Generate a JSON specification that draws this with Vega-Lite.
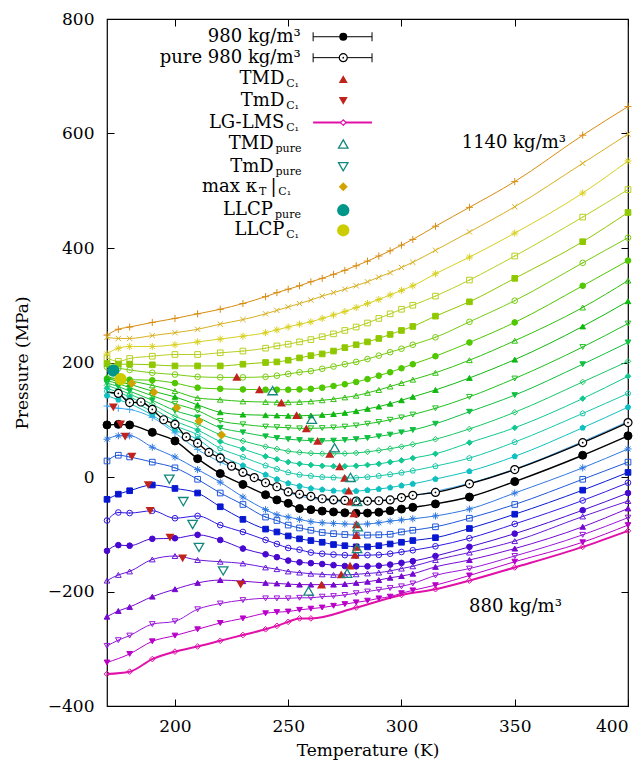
{
"$schema":"https://vega.github.io/schema/vega-lite/v6.json",
"width":521,"height":687,
"autosize":{"type":"none"},
"padding":{"left":107,"top":19,"right":16,"bottom":64},
"background":"white",
"config":{"view":{"stroke":"black","strokeWidth":1.2},"font":"DejaVu Serif",
"axis":{"domain":false,"grid":false,"tickColor":"black","tickSize":-7,"tickWidth":1,"labelFont":"DejaVu Serif","labelFontSize":17,"labelColor":"black","titleFont":"DejaVu Serif","titleFontSize":17,"titleFontWeight":"normal","titleColor":"black"}},
"datasets":{
"iso":[
{"r":1140,"T":170,"P":248},{"r":1140,"T":175,"P":258},{"r":1140,"T":180,"P":262},{"r":1140,"T":190,"P":270},{"r":1140,"T":200,"P":277},{"r":1140,"T":210,"P":285},{"r":1140,"T":220,"P":293},{"r":1140,"T":230,"P":303},{"r":1140,"T":240,"P":315},{"r":1140,"T":245,"P":322},{"r":1140,"T":250,"P":328},{"r":1140,"T":255,"P":334},{"r":1140,"T":260,"P":341},{"r":1140,"T":265,"P":347},{"r":1140,"T":270,"P":354},{"r":1140,"T":275,"P":361},{"r":1140,"T":280,"P":369},{"r":1140,"T":285,"P":377},{"r":1140,"T":290,"P":386},{"r":1140,"T":295,"P":395},{"r":1140,"T":300,"P":405},{"r":1140,"T":305,"P":415},{"r":1140,"T":315,"P":438},{"r":1140,"T":330,"P":471},{"r":1140,"T":350,"P":516},{"r":1140,"T":380,"P":597},{"r":1140,"T":400,"P":647},
{"r":1130,"T":170,"P":244},{"r":1130,"T":175,"P":242},{"r":1130,"T":180,"P":242},{"r":1130,"T":190,"P":247},{"r":1130,"T":200,"P":252},{"r":1130,"T":210,"P":258},{"r":1130,"T":220,"P":267},{"r":1130,"T":230,"P":275},{"r":1130,"T":240,"P":285},{"r":1130,"T":245,"P":291},{"r":1130,"T":250,"P":297},{"r":1130,"T":255,"P":303},{"r":1130,"T":260,"P":309},{"r":1130,"T":265,"P":316},{"r":1130,"T":270,"P":322},{"r":1130,"T":275,"P":328},{"r":1130,"T":280,"P":334},{"r":1130,"T":285,"P":341},{"r":1130,"T":290,"P":349},{"r":1130,"T":295,"P":357},{"r":1130,"T":300,"P":366},{"r":1130,"T":305,"P":375},{"r":1130,"T":315,"P":396},{"r":1130,"T":330,"P":428},{"r":1130,"T":350,"P":472},{"r":1130,"T":380,"P":548},{"r":1130,"T":400,"P":599},
{"r":1120,"T":170,"P":215},{"r":1120,"T":175,"P":225},{"r":1120,"T":180,"P":228},{"r":1120,"T":190,"P":228},{"r":1120,"T":200,"P":231},{"r":1120,"T":210,"P":236},{"r":1120,"T":220,"P":241},{"r":1120,"T":230,"P":246},{"r":1120,"T":240,"P":252},{"r":1120,"T":245,"P":257},{"r":1120,"T":250,"P":262},{"r":1120,"T":255,"P":267},{"r":1120,"T":260,"P":271},{"r":1120,"T":265,"P":277},{"r":1120,"T":270,"P":283},{"r":1120,"T":275,"P":289},{"r":1120,"T":280,"P":296},{"r":1120,"T":285,"P":303},{"r":1120,"T":290,"P":310},{"r":1120,"T":295,"P":318},{"r":1120,"T":300,"P":326},{"r":1120,"T":305,"P":334},{"r":1120,"T":315,"P":355},{"r":1120,"T":330,"P":384},{"r":1120,"T":350,"P":426},{"r":1120,"T":380,"P":496},{"r":1120,"T":400,"P":552},
{"r":1110,"T":170,"P":208},{"r":1110,"T":175,"P":202},{"r":1110,"T":180,"P":207},{"r":1110,"T":190,"P":211},{"r":1110,"T":200,"P":214},{"r":1110,"T":210,"P":214},{"r":1110,"T":220,"P":217},{"r":1110,"T":230,"P":220},{"r":1110,"T":240,"P":225},{"r":1110,"T":245,"P":229},{"r":1110,"T":250,"P":232},{"r":1110,"T":255,"P":236},{"r":1110,"T":260,"P":240},{"r":1110,"T":265,"P":245},{"r":1110,"T":270,"P":250},{"r":1110,"T":275,"P":256},{"r":1110,"T":280,"P":262},{"r":1110,"T":285,"P":269},{"r":1110,"T":290,"P":277},{"r":1110,"T":295,"P":285},{"r":1110,"T":300,"P":293},{"r":1110,"T":305,"P":300},{"r":1110,"T":315,"P":316},{"r":1110,"T":330,"P":344},{"r":1110,"T":350,"P":386},{"r":1110,"T":380,"P":454},{"r":1110,"T":400,"P":502},
{"r":1100,"T":170,"P":198},{"r":1100,"T":175,"P":197},{"r":1100,"T":180,"P":197},{"r":1100,"T":190,"P":196},{"r":1100,"T":200,"P":194},{"r":1100,"T":210,"P":194},{"r":1100,"T":220,"P":194},{"r":1100,"T":230,"P":197},{"r":1100,"T":240,"P":200},{"r":1100,"T":245,"P":201},{"r":1100,"T":250,"P":204},{"r":1100,"T":255,"P":208},{"r":1100,"T":260,"P":212},{"r":1100,"T":265,"P":215},{"r":1100,"T":270,"P":220},{"r":1100,"T":275,"P":226},{"r":1100,"T":280,"P":231},{"r":1100,"T":285,"P":236},{"r":1100,"T":290,"P":242},{"r":1100,"T":295,"P":249},{"r":1100,"T":300,"P":256},{"r":1100,"T":305,"P":263},{"r":1100,"T":315,"P":281},{"r":1100,"T":330,"P":306},{"r":1100,"T":350,"P":347},{"r":1100,"T":380,"P":411},{"r":1100,"T":400,"P":462},
{"r":1090,"T":170,"P":192},{"r":1090,"T":175,"P":190},{"r":1090,"T":180,"P":187},{"r":1090,"T":190,"P":182},{"r":1090,"T":200,"P":179},{"r":1090,"T":210,"P":175},{"r":1090,"T":220,"P":174},{"r":1090,"T":230,"P":174},{"r":1090,"T":240,"P":175},{"r":1090,"T":245,"P":177},{"r":1090,"T":250,"P":180},{"r":1090,"T":255,"P":183},{"r":1090,"T":260,"P":185},{"r":1090,"T":265,"P":189},{"r":1090,"T":270,"P":193},{"r":1090,"T":275,"P":197},{"r":1090,"T":280,"P":201},{"r":1090,"T":285,"P":206},{"r":1090,"T":290,"P":212},{"r":1090,"T":295,"P":218},{"r":1090,"T":300,"P":224},{"r":1090,"T":305,"P":231},{"r":1090,"T":315,"P":244},{"r":1090,"T":330,"P":271},{"r":1090,"T":350,"P":308},{"r":1090,"T":380,"P":374},{"r":1090,"T":400,"P":418},
{"r":1080,"T":170,"P":172},{"r":1080,"T":175,"P":171},{"r":1080,"T":180,"P":170},{"r":1080,"T":190,"P":169},{"r":1080,"T":200,"P":164},{"r":1080,"T":210,"P":156},{"r":1080,"T":220,"P":154},{"r":1080,"T":230,"P":153},{"r":1080,"T":240,"P":152.5},{"r":1080,"T":245,"P":152.5},{"r":1080,"T":250,"P":152.5},{"r":1080,"T":255,"P":153},{"r":1080,"T":260,"P":154},{"r":1080,"T":265,"P":156},{"r":1080,"T":270,"P":159},{"r":1080,"T":275,"P":162},{"r":1080,"T":280,"P":166},{"r":1080,"T":285,"P":171},{"r":1080,"T":290,"P":177},{"r":1080,"T":295,"P":183},{"r":1080,"T":300,"P":190},{"r":1080,"T":305,"P":197},{"r":1080,"T":315,"P":211},{"r":1080,"T":330,"P":235},{"r":1080,"T":350,"P":270},{"r":1080,"T":380,"P":334},{"r":1080,"T":400,"P":378},
{"r":1070,"T":170,"P":175},{"r":1070,"T":175,"P":171},{"r":1070,"T":180,"P":168},{"r":1070,"T":190,"P":160},{"r":1070,"T":200,"P":150},{"r":1070,"T":210,"P":138},{"r":1070,"T":220,"P":135},{"r":1070,"T":230,"P":132},{"r":1070,"T":240,"P":131},{"r":1070,"T":245,"P":130.5},{"r":1070,"T":250,"P":130.5},{"r":1070,"T":255,"P":131},{"r":1070,"T":260,"P":132},{"r":1070,"T":265,"P":134},{"r":1070,"T":270,"P":136},{"r":1070,"T":275,"P":139},{"r":1070,"T":280,"P":142},{"r":1070,"T":285,"P":147},{"r":1070,"T":290,"P":152},{"r":1070,"T":295,"P":158},{"r":1070,"T":300,"P":164},{"r":1070,"T":305,"P":170},{"r":1070,"T":315,"P":182},{"r":1070,"T":330,"P":204},{"r":1070,"T":350,"P":238},{"r":1070,"T":380,"P":296},{"r":1070,"T":400,"P":343},
{"r":1060,"T":170,"P":172},{"r":1060,"T":175,"P":167},{"r":1060,"T":180,"P":162},{"r":1060,"T":190,"P":150},{"r":1060,"T":200,"P":140},{"r":1060,"T":210,"P":126},{"r":1060,"T":220,"P":113},{"r":1060,"T":230,"P":109},{"r":1060,"T":240,"P":108},{"r":1060,"T":245,"P":107.5},{"r":1060,"T":250,"P":107},{"r":1060,"T":255,"P":107},{"r":1060,"T":260,"P":107.5},{"r":1060,"T":265,"P":108.5},{"r":1060,"T":270,"P":110},{"r":1060,"T":275,"P":112},{"r":1060,"T":280,"P":115},{"r":1060,"T":285,"P":119},{"r":1060,"T":290,"P":123},{"r":1060,"T":295,"P":128},{"r":1060,"T":300,"P":134},{"r":1060,"T":305,"P":140},{"r":1060,"T":315,"P":152},{"r":1060,"T":330,"P":173},{"r":1060,"T":350,"P":205},{"r":1060,"T":380,"P":263},{"r":1060,"T":400,"P":307},
{"r":1050,"T":170,"P":168},{"r":1050,"T":175,"P":163},{"r":1050,"T":180,"P":156},{"r":1050,"T":190,"P":142},{"r":1050,"T":200,"P":128},{"r":1050,"T":210,"P":116},{"r":1050,"T":220,"P":98},{"r":1050,"T":230,"P":92},{"r":1050,"T":240,"P":88},{"r":1050,"T":245,"P":87},{"r":1050,"T":250,"P":86},{"r":1050,"T":255,"P":85},{"r":1050,"T":260,"P":85},{"r":1050,"T":265,"P":85.5},{"r":1050,"T":270,"P":86.5},{"r":1050,"T":275,"P":88},{"r":1050,"T":280,"P":90},{"r":1050,"T":285,"P":93},{"r":1050,"T":290,"P":96},{"r":1050,"T":295,"P":100},{"r":1050,"T":300,"P":104},{"r":1050,"T":305,"P":109},{"r":1050,"T":315,"P":120},{"r":1050,"T":330,"P":140},{"r":1050,"T":350,"P":172},{"r":1050,"T":380,"P":227},{"r":1050,"T":400,"P":268},
{"r":1040,"T":170,"P":164},{"r":1040,"T":175,"P":158},{"r":1040,"T":180,"P":150},{"r":1040,"T":190,"P":134},{"r":1040,"T":200,"P":116},{"r":1040,"T":210,"P":104},{"r":1040,"T":220,"P":86},{"r":1040,"T":230,"P":78},{"r":1040,"T":240,"P":71},{"r":1040,"T":245,"P":68},{"r":1040,"T":250,"P":66},{"r":1040,"T":255,"P":64.5},{"r":1040,"T":260,"P":63.5},{"r":1040,"T":265,"P":63},{"r":1040,"T":270,"P":63.5},{"r":1040,"T":275,"P":64.5},{"r":1040,"T":280,"P":66},{"r":1040,"T":285,"P":68},{"r":1040,"T":290,"P":71},{"r":1040,"T":295,"P":74},{"r":1040,"T":300,"P":78},{"r":1040,"T":305,"P":82},{"r":1040,"T":315,"P":93},{"r":1040,"T":330,"P":114},{"r":1040,"T":350,"P":143},{"r":1040,"T":380,"P":197},{"r":1040,"T":400,"P":235},
{"r":1030,"T":170,"P":160},{"r":1030,"T":175,"P":153},{"r":1030,"T":180,"P":145},{"r":1030,"T":190,"P":127},{"r":1030,"T":200,"P":106},{"r":1030,"T":210,"P":92},{"r":1030,"T":220,"P":74},{"r":1030,"T":230,"P":63},{"r":1030,"T":240,"P":53},{"r":1030,"T":245,"P":49},{"r":1030,"T":250,"P":45},{"r":1030,"T":255,"P":43},{"r":1030,"T":260,"P":41.5},{"r":1030,"T":265,"P":40.8},{"r":1030,"T":270,"P":40.5},{"r":1030,"T":275,"P":41},{"r":1030,"T":280,"P":42},{"r":1030,"T":285,"P":44},{"r":1030,"T":290,"P":46.5},{"r":1030,"T":295,"P":49.5},{"r":1030,"T":300,"P":53},{"r":1030,"T":305,"P":57},{"r":1030,"T":315,"P":66},{"r":1030,"T":330,"P":84},{"r":1030,"T":350,"P":113},{"r":1030,"T":380,"P":166},{"r":1030,"T":400,"P":202},
{"r":1020,"T":170,"P":155},{"r":1020,"T":175,"P":148},{"r":1020,"T":180,"P":140},{"r":1020,"T":190,"P":120},{"r":1020,"T":200,"P":98},{"r":1020,"T":210,"P":82},{"r":1020,"T":220,"P":62},{"r":1020,"T":230,"P":49},{"r":1020,"T":240,"P":36},{"r":1020,"T":245,"P":31},{"r":1020,"T":250,"P":26},{"r":1020,"T":255,"P":23},{"r":1020,"T":260,"P":21},{"r":1020,"T":265,"P":19.5},{"r":1020,"T":270,"P":18.8},{"r":1020,"T":275,"P":18.7},{"r":1020,"T":280,"P":19.5},{"r":1020,"T":285,"P":21},{"r":1020,"T":290,"P":23},{"r":1020,"T":295,"P":26},{"r":1020,"T":300,"P":29},{"r":1020,"T":305,"P":33},{"r":1020,"T":315,"P":40.5},{"r":1020,"T":330,"P":60},{"r":1020,"T":350,"P":86},{"r":1020,"T":380,"P":137},{"r":1020,"T":400,"P":176},
{"r":1010,"T":170,"P":150},{"r":1010,"T":175,"P":142},{"r":1010,"T":180,"P":134},{"r":1010,"T":190,"P":114},{"r":1010,"T":200,"P":90},{"r":1010,"T":210,"P":74},{"r":1010,"T":220,"P":50},{"r":1010,"T":230,"P":35},{"r":1010,"T":240,"P":20},{"r":1010,"T":245,"P":14},{"r":1010,"T":250,"P":8},{"r":1010,"T":255,"P":4},{"r":1010,"T":260,"P":2},{"r":1010,"T":265,"P":0},{"r":1010,"T":270,"P":-1},{"r":1010,"T":275,"P":-2},{"r":1010,"T":280,"P":-1.5},{"r":1010,"T":285,"P":0},{"r":1010,"T":290,"P":2},{"r":1010,"T":295,"P":4.5},{"r":1010,"T":300,"P":7.5},{"r":1010,"T":305,"P":11},{"r":1010,"T":315,"P":19},{"r":1010,"T":330,"P":33},{"r":1010,"T":350,"P":61},{"r":1010,"T":380,"P":111},{"r":1010,"T":400,"P":146},
{"r":1000,"T":170,"P":142},{"r":1000,"T":175,"P":135},{"r":1000,"T":180,"P":128},{"r":1000,"T":190,"P":108},{"r":1000,"T":200,"P":82},{"r":1000,"T":210,"P":66},{"r":1000,"T":220,"P":38},{"r":1000,"T":230,"P":20},{"r":1000,"T":240,"P":4},{"r":1000,"T":245,"P":-4},{"r":1000,"T":250,"P":-11},{"r":1000,"T":255,"P":-16},{"r":1000,"T":260,"P":-20},{"r":1000,"T":265,"P":-22},{"r":1000,"T":270,"P":-24},{"r":1000,"T":275,"P":-24.5},{"r":1000,"T":280,"P":-24.5},{"r":1000,"T":285,"P":-23},{"r":1000,"T":290,"P":-21},{"r":1000,"T":295,"P":-18.5},{"r":1000,"T":300,"P":-15},{"r":1000,"T":305,"P":-12},{"r":1000,"T":315,"P":-3.5},{"r":1000,"T":330,"P":10},{"r":1000,"T":350,"P":36},{"r":1000,"T":380,"P":86},{"r":1000,"T":400,"P":122},
{"r":990,"T":170,"P":124},{"r":990,"T":175,"P":120},{"r":990,"T":180,"P":118},{"r":990,"T":190,"P":104},{"r":990,"T":200,"P":77},{"r":990,"T":210,"P":48},{"r":990,"T":220,"P":26},{"r":990,"T":230,"P":9},{"r":990,"T":240,"P":-9},{"r":990,"T":245,"P":-18},{"r":990,"T":250,"P":-27},{"r":990,"T":255,"P":-33},{"r":990,"T":260,"P":-37},{"r":990,"T":265,"P":-40},{"r":990,"T":270,"P":-42},{"r":990,"T":275,"P":-43},{"r":990,"T":280,"P":-43},{"r":990,"T":285,"P":-42},{"r":990,"T":290,"P":-41},{"r":990,"T":295,"P":-39},{"r":990,"T":300,"P":-36},{"r":990,"T":305,"P":-33},{"r":990,"T":315,"P":-25},{"r":990,"T":330,"P":-11},{"r":990,"T":350,"P":14},{"r":990,"T":380,"P":62},{"r":990,"T":400,"P":97},
{"r":980,"T":170,"P":91},{"r":980,"T":175,"P":92},{"r":980,"T":180,"P":91},{"r":980,"T":190,"P":78},{"r":980,"T":200,"P":63},{"r":980,"T":210,"P":32},{"r":980,"T":220,"P":6},{"r":980,"T":230,"P":-13},{"r":980,"T":240,"P":-31},{"r":980,"T":245,"P":-40},{"r":980,"T":250,"P":-46},{"r":980,"T":255,"P":-55},{"r":980,"T":260,"P":-57},{"r":980,"T":265,"P":-59.5},{"r":980,"T":270,"P":-61},{"r":980,"T":275,"P":-62.5},{"r":980,"T":280,"P":-63.3},{"r":980,"T":285,"P":-63},{"r":980,"T":290,"P":-61.5},{"r":980,"T":295,"P":-59},{"r":980,"T":300,"P":-56},{"r":980,"T":305,"P":-53},{"r":980,"T":315,"P":-47},{"r":980,"T":330,"P":-35},{"r":980,"T":350,"P":-8},{"r":980,"T":380,"P":38},{"r":980,"T":400,"P":72},
{"r":970,"T":170,"P":66},{"r":970,"T":175,"P":72},{"r":970,"T":180,"P":72},{"r":970,"T":190,"P":52},{"r":970,"T":200,"P":35},{"r":970,"T":210,"P":13},{"r":970,"T":220,"P":-9},{"r":970,"T":230,"P":-35},{"r":970,"T":240,"P":-57},{"r":970,"T":245,"P":-66},{"r":970,"T":250,"P":-70},{"r":970,"T":255,"P":-74},{"r":970,"T":260,"P":-78},{"r":970,"T":265,"P":-80},{"r":970,"T":270,"P":-81},{"r":970,"T":275,"P":-82},{"r":970,"T":280,"P":-82.5},{"r":970,"T":285,"P":-82},{"r":970,"T":290,"P":-80},{"r":970,"T":295,"P":-77},{"r":970,"T":300,"P":-75},{"r":970,"T":305,"P":-73},{"r":970,"T":315,"P":-68},{"r":970,"T":330,"P":-56},{"r":970,"T":350,"P":-28},{"r":970,"T":380,"P":16},{"r":970,"T":400,"P":49},
{"r":960,"T":170,"P":28},{"r":960,"T":175,"P":38},{"r":960,"T":180,"P":35},{"r":960,"T":190,"P":26},{"r":960,"T":200,"P":16},{"r":960,"T":210,"P":-4},{"r":960,"T":220,"P":-28},{"r":960,"T":230,"P":-48},{"r":960,"T":240,"P":-70},{"r":960,"T":245,"P":-76},{"r":960,"T":250,"P":-84},{"r":960,"T":255,"P":-89},{"r":960,"T":260,"P":-93},{"r":960,"T":265,"P":-97},{"r":960,"T":270,"P":-99},{"r":960,"T":275,"P":-100.5},{"r":960,"T":280,"P":-101.5},{"r":960,"T":285,"P":-101.5},{"r":960,"T":290,"P":-101},{"r":960,"T":295,"P":-100},{"r":960,"T":300,"P":-96},{"r":960,"T":305,"P":-93},{"r":960,"T":315,"P":-87},{"r":960,"T":330,"P":-72},{"r":960,"T":350,"P":-48},{"r":960,"T":380,"P":-4},{"r":960,"T":400,"P":26},
{"r":950,"T":170,"P":-39},{"r":950,"T":175,"P":-30},{"r":950,"T":180,"P":-24},{"r":950,"T":190,"P":-14},{"r":950,"T":200,"P":-20},{"r":950,"T":210,"P":-28},{"r":950,"T":220,"P":-52},{"r":950,"T":230,"P":-74},{"r":950,"T":240,"P":-91},{"r":950,"T":245,"P":-96},{"r":950,"T":250,"P":-103},{"r":950,"T":255,"P":-108},{"r":950,"T":260,"P":-111},{"r":950,"T":265,"P":-114},{"r":950,"T":270,"P":-118},{"r":950,"T":275,"P":-120},{"r":950,"T":280,"P":-122},{"r":950,"T":285,"P":-122},{"r":950,"T":290,"P":-120},{"r":950,"T":295,"P":-117},{"r":950,"T":300,"P":-114},{"r":950,"T":305,"P":-111},{"r":950,"T":315,"P":-106},{"r":950,"T":330,"P":-90},{"r":950,"T":350,"P":-65},{"r":950,"T":380,"P":-23},{"r":950,"T":400,"P":8},
{"r":940,"T":170,"P":-76},{"r":940,"T":175,"P":-62},{"r":940,"T":180,"P":-63},{"r":940,"T":190,"P":-59},{"r":940,"T":200,"P":-72},{"r":940,"T":210,"P":-68},{"r":940,"T":220,"P":-84},{"r":940,"T":230,"P":-96},{"r":940,"T":240,"P":-110},{"r":940,"T":245,"P":-117},{"r":940,"T":250,"P":-124},{"r":940,"T":255,"P":-127},{"r":940,"T":260,"P":-132},{"r":940,"T":265,"P":-134},{"r":940,"T":270,"P":-135.5},{"r":940,"T":275,"P":-136.5},{"r":940,"T":280,"P":-137},{"r":940,"T":285,"P":-136.5},{"r":940,"T":290,"P":-136},{"r":940,"T":295,"P":-134},{"r":940,"T":300,"P":-131},{"r":940,"T":305,"P":-128},{"r":940,"T":315,"P":-121},{"r":940,"T":330,"P":-107},{"r":940,"T":350,"P":-82},{"r":940,"T":380,"P":-41},{"r":940,"T":400,"P":-10},
{"r":930,"T":170,"P":-129},{"r":930,"T":175,"P":-119},{"r":930,"T":180,"P":-120},{"r":930,"T":190,"P":-108},{"r":930,"T":200,"P":-107},{"r":930,"T":210,"P":-101},{"r":930,"T":220,"P":-110},{"r":930,"T":230,"P":-125},{"r":930,"T":240,"P":-135},{"r":930,"T":245,"P":-140},{"r":930,"T":250,"P":-146},{"r":930,"T":255,"P":-149},{"r":930,"T":260,"P":-150.5},{"r":930,"T":265,"P":-152},{"r":930,"T":270,"P":-154},{"r":930,"T":275,"P":-155.5},{"r":930,"T":280,"P":-156},{"r":930,"T":285,"P":-156},{"r":930,"T":290,"P":-155},{"r":930,"T":295,"P":-153},{"r":930,"T":300,"P":-150},{"r":930,"T":305,"P":-147},{"r":930,"T":315,"P":-138},{"r":930,"T":330,"P":-122},{"r":930,"T":350,"P":-99},{"r":930,"T":380,"P":-58},{"r":930,"T":400,"P":-28},
{"r":920,"T":170,"P":-181},{"r":920,"T":175,"P":-171},{"r":920,"T":180,"P":-165},{"r":920,"T":190,"P":-144},{"r":920,"T":200,"P":-138},{"r":920,"T":210,"P":-145},{"r":920,"T":220,"P":-148},{"r":920,"T":230,"P":-151},{"r":920,"T":240,"P":-158},{"r":920,"T":245,"P":-161},{"r":920,"T":250,"P":-165},{"r":920,"T":255,"P":-167},{"r":920,"T":260,"P":-169},{"r":920,"T":265,"P":-170},{"r":920,"T":270,"P":-171},{"r":920,"T":275,"P":-171},{"r":920,"T":280,"P":-170},{"r":920,"T":285,"P":-168.5},{"r":920,"T":290,"P":-167},{"r":920,"T":295,"P":-164},{"r":920,"T":300,"P":-160},{"r":920,"T":305,"P":-156},{"r":920,"T":315,"P":-145},{"r":920,"T":330,"P":-132},{"r":920,"T":350,"P":-112},{"r":920,"T":380,"P":-69},{"r":920,"T":400,"P":-42},
{"r":910,"T":170,"P":-244},{"r":910,"T":175,"P":-234},{"r":910,"T":180,"P":-227},{"r":910,"T":190,"P":-209},{"r":910,"T":200,"P":-196},{"r":910,"T":210,"P":-185},{"r":910,"T":220,"P":-180},{"r":910,"T":230,"P":-182},{"r":910,"T":240,"P":-185},{"r":910,"T":245,"P":-186},{"r":910,"T":250,"P":-187},{"r":910,"T":255,"P":-188},{"r":910,"T":260,"P":-188},{"r":910,"T":265,"P":-188},{"r":910,"T":270,"P":-188},{"r":910,"T":275,"P":-187},{"r":910,"T":280,"P":-185},{"r":910,"T":285,"P":-183},{"r":910,"T":290,"P":-180},{"r":910,"T":295,"P":-176},{"r":910,"T":300,"P":-173},{"r":910,"T":305,"P":-169},{"r":910,"T":315,"P":-157},{"r":910,"T":330,"P":-145},{"r":910,"T":350,"P":-125},{"r":910,"T":380,"P":-87},{"r":910,"T":400,"P":-55},
{"r":900,"T":170,"P":-295},{"r":900,"T":175,"P":-285},{"r":900,"T":180,"P":-277},{"r":900,"T":190,"P":-257},{"r":900,"T":200,"P":-252},{"r":900,"T":210,"P":-231},{"r":900,"T":220,"P":-221},{"r":900,"T":230,"P":-215},{"r":900,"T":240,"P":-212},{"r":900,"T":245,"P":-212},{"r":900,"T":250,"P":-212},{"r":900,"T":255,"P":-211},{"r":900,"T":260,"P":-211},{"r":900,"T":265,"P":-209},{"r":900,"T":270,"P":-208},{"r":900,"T":275,"P":-206},{"r":900,"T":280,"P":-203},{"r":900,"T":285,"P":-200},{"r":900,"T":290,"P":-197},{"r":900,"T":295,"P":-194},{"r":900,"T":300,"P":-191},{"r":900,"T":305,"P":-186},{"r":900,"T":315,"P":-172},{"r":900,"T":330,"P":-160},{"r":900,"T":350,"P":-138},{"r":900,"T":380,"P":-101},{"r":900,"T":400,"P":-71},
{"r":890,"T":170,"P":-324},{"r":890,"T":180,"P":-309},{"r":890,"T":190,"P":-287},{"r":890,"T":200,"P":-277},{"r":890,"T":210,"P":-266},{"r":890,"T":220,"P":-255},{"r":890,"T":230,"P":-247},{"r":890,"T":240,"P":-238},{"r":890,"T":245,"P":-236},{"r":890,"T":250,"P":-235},{"r":890,"T":255,"P":-232},{"r":890,"T":260,"P":-230},{"r":890,"T":265,"P":-228},{"r":890,"T":270,"P":-225},{"r":890,"T":275,"P":-222},{"r":890,"T":280,"P":-219},{"r":890,"T":285,"P":-216},{"r":890,"T":290,"P":-212},{"r":890,"T":295,"P":-209},{"r":890,"T":300,"P":-203},{"r":890,"T":305,"P":-198},{"r":890,"T":315,"P":-189},{"r":890,"T":330,"P":-172},{"r":890,"T":350,"P":-148},{"r":890,"T":380,"P":-114},{"r":890,"T":400,"P":-84},
{"r":880,"T":170,"P":-344},{"r":880,"T":180,"P":-340},{"r":880,"T":190,"P":-318},{"r":880,"T":200,"P":-305},{"r":880,"T":210,"P":-296},{"r":880,"T":220,"P":-286},{"r":880,"T":230,"P":-276},{"r":880,"T":240,"P":-266},{"r":880,"T":245,"P":-260},{"r":880,"T":250,"P":-253},{"r":880,"T":255,"P":-247},{"r":880,"T":260,"P":-247},{"r":880,"T":280,"P":-228},{"r":880,"T":300,"P":-206},{"r":880,"T":315,"P":-196},{"r":880,"T":330,"P":-181},{"r":880,"T":350,"P":-158},{"r":880,"T":380,"P":-122},{"r":880,"T":400,"P":-94}
],
"pure":[
{"T":170,"P":148},{"T":175,"P":146},{"T":180,"P":130},{"T":185,"P":131},{"T":190,"P":118},{"T":195,"P":100},{"T":200,"P":92},{"T":205,"P":70},{"T":210,"P":59},{"T":215,"P":43},{"T":220,"P":33},{"T":225,"P":19},{"T":230,"P":8},{"T":235,"P":-1},{"T":240,"P":-10},{"T":245,"P":-17},{"T":250,"P":-26},{"T":255,"P":-30},{"T":260,"P":-34},{"T":265,"P":-38},{"T":270,"P":-40},{"T":275,"P":-41},{"T":280,"P":-42},{"T":285,"P":-42},{"T":290,"P":-41.5},{"T":295,"P":-40},{"T":300,"P":-36},{"T":305,"P":-32},{"T":315,"P":-27},{"T":330,"P":-12},{"T":350,"P":13},{"T":380,"P":60},{"T":400,"P":95}
],
"spec":[
{"k":"TMD","T":227.3,"P":175},{"k":"TMD","T":237.3,"P":153},{"k":"TMD","T":247,"P":130},{"k":"TMD","T":253.7,"P":108},{"k":"TMD","T":258,"P":85},{"k":"TMD","T":263,"P":63},{"k":"TMD","T":268.3,"P":40.5},{"k":"TMD","T":272.7,"P":18.7},{"k":"TMD","T":274.9,"P":-1.7},{"k":"TMD","T":276.7,"P":-24},{"k":"TMD","T":277.5,"P":-42.8},{"k":"TMD","T":279,"P":-63.4},{"k":"TMD","T":280.1,"P":-82.8},{"k":"TMD","T":280.1,"P":-101.5},{"k":"TMD","T":280.1,"P":-122},{"k":"TMD","T":279.5,"P":-136},{"k":"TMD","T":277.3,"P":-155},{"k":"TMD","T":273.4,"P":-170},{"k":"TMD","T":264.7,"P":-188},{"k":"TMD","T":274.3,"P":695},
{"k":"TmD","T":172.8,"P":121.7},{"k":"TmD","T":176,"P":92},{"k":"TmD","T":178,"P":70.4},{"k":"TmD","T":181,"P":35.5},{"k":"TmD","T":188.2,"P":-14},{"k":"TmD","T":189,"P":-59},{"k":"TmD","T":197.8,"P":-106},{"k":"TmD","T":203.4,"P":-142},{"k":"TmD","T":229,"P":-188},{"k":"TmD","T":274.3,"P":657},
{"k":"TMDp","T":243.1,"P":150.8},{"k":"TMDp","T":260.4,"P":101},{"k":"TMDp","T":270.5,"P":51},{"k":"TMDp","T":277.5,"P":-0.7},{"k":"TMDp","T":280.4,"P":-42.8},{"k":"TMDp","T":280.7,"P":-87},{"k":"TMDp","T":280.4,"P":-125},{"k":"TMDp","T":276,"P":-168},{"k":"TMDp","T":259,"P":-199},{"k":"TMDp","T":274.3,"P":581.7},
{"k":"TmDp","T":197.5,"P":-4},{"k":"TmDp","T":203.7,"P":-43},{"k":"TmDp","T":207.8,"P":-83},{"k":"TmDp","T":210.6,"P":-123},{"k":"TmDp","T":221.3,"P":-164},{"k":"TmDp","T":274.3,"P":542},
{"k":"kT","T":180.9,"P":163.6},{"k":"kT","T":190.7,"P":148},{"k":"kT","T":200.8,"P":121},{"k":"kT","T":210.6,"P":97.8},{"k":"kT","T":220.6,"P":73.4},{"k":"kT","T":274.3,"P":507},
{"k":"LLp","T":172.8,"P":185.7},{"k":"LLp","T":274.3,"P":466},
{"k":"LLc","T":176,"P":171},{"k":"LLc","T":274.3,"P":431},
{"k":"L980","T":274.3,"P":769},{"k":"Lpure","T":274.3,"P":732.5},{"k":"LG","T":274.3,"P":619}
],
"legl":[
{"k":"e1","T":261,"P":769},{"k":"e1","T":287,"P":769},{"k":"e2","T":261,"P":732.5},{"k":"e2","T":287,"P":732.5},{"k":"lg","T":261,"P":619},{"k":"lg","T":287,"P":619}
],
"legt":[
{"t":"980 kg/m³","T":255.5,"P":769},{"t":"pure 980 kg/m³","T":255.5,"P":732.5},{"t":"TMD","T":248.3,"P":695},{"t":"TmD","T":248.3,"P":657},{"t":"LG-LMS","T":248.3,"P":619},{"t":"TMD","T":243.6,"P":581.7},{"t":"TmD","T":243.6,"P":542},{"t":"max κ","T":236.2,"P":507},{"t":"LLCP","T":243.2,"P":466},{"t":"LLCP","T":248.3,"P":431}
],
"legs":[
{"t":"C₁","T":249.1,"P":695},{"t":"C₁","T":249.1,"P":657},{"t":"C₁","T":249.1,"P":619},{"t":"pure","T":244.4,"P":581.7},{"t":"pure","T":244.4,"P":542},{"t":"T","T":237.1,"P":507},{"t":"C₁","T":245.6,"P":507},{"t":"pure","T":244.2,"P":466},{"t":"C₁","T":249.1,"P":431}
],
"ann":[
{"t":"1140 kg/m³","T":349.6,"P":584},{"t":"880 kg/m³","T":350.3,"P":-226.5},{"t":"|","T":243.5,"P":507}
]
},
"layer":[
{"data":{"name":"iso"},
 "mark":{"type":"line","interpolate":"monotone"},
 "encoding":{
  "x":{"field":"T","type":"quantitative","scale":{"domain":[170,400],"nice":false,"zero":false},
       "axis":{"orient":"bottom","values":[200,250,300,350,400],"title":"Temperature (K)","labelPadding":19,"titlePadding":8}},
  "y":{"field":"P","type":"quantitative","scale":{"domain":[-400,800],"nice":false,"zero":false},
       "axis":{"orient":"left","values":[-400,-200,0,200,400,600,800],"title":"Pressure (MPa)","labelPadding":20,"titlePadding":16}},
  "detail":{"field":"r","type":"nominal"},
  "stroke":{"field":"r","type":"ordinal","legend":null,"scale":{"domain":[880,890,900,910,920,930,940,950,960,970,980,990,1000,1010,1020,1030,1040,1050,1060,1070,1080,1090,1100,1110,1120,1130,1140],
   "range":["#e010a8","#b800c8","#9a18d8","#7808d0","#6818d8","#4808d0","#3018e0","#0818d0","#2058d8","#3078e0","#000000","#40a8f0","#10c0c0","#18c8a8","#10c890","#18c868","#10c040","#20c020","#10b810","#30c010","#50c800","#78cc10","#90c800","#b8d020","#d8d020","#d8b020","#d88c10"]}},
  "strokeWidth":{"condition":[{"test":"datum.r==880","value":2},{"test":"datum.r==980","value":1.4}],"value":1}
 }},
{"data":{"name":"pure"},
 "mark":{"type":"line","interpolate":"monotone","color":"black","strokeWidth":1.3},
 "encoding":{"x":{"field":"T","type":"quantitative","axis":null},"y":{"field":"P","type":"quantitative","axis":null}}},
{"data":{"name":"iso"},
 "mark":{"type":"point","strokeWidth":1,"opacity":1},
 "encoding":{
  "x":{"field":"T","type":"quantitative","axis":{"orient":"top","values":[200,250,300,350,400],"labels":false,"title":null}},
  "y":{"field":"P","type":"quantitative","axis":{"orient":"right","values":[-400,-200,0,200,400,600,800],"labels":false,"title":null}},
  "stroke":{"field":"r","type":"ordinal","legend":null},
  "fill":{"field":"r","type":"ordinal","legend":null,"scale":{"domain":[880,890,900,910,920,930,940,950,960,970,980,990,1000,1010,1020,1030,1040,1050,1060,1070,1080,1090,1100,1110,1120,1130,1140],
   "range":["transparent","#b800c8","transparent","#7808d0","transparent","#4808d0","transparent","#0818d0","transparent","transparent","#000000","transparent","#10c0c0","transparent","#10c890","transparent","#10c040","transparent","#10b810","transparent","#50c800","transparent","#90c800","transparent","transparent","transparent","transparent"]}},
  "shape":{"field":"r","type":"ordinal","legend":null,"scale":{"domain":[880,890,900,910,920,930,940,950,960,970,980,990,1000,1010,1020,1030,1040,1050,1060,1070,1080,1090,1100,1110,1120,1130,1140],
   "range":["diamond","triangle-down","triangle-down","triangle-up","triangle-up","circle","circle","square","square","M-1,0L1,0M0,-1L0,1M-0.7,-0.7L0.7,0.7M-0.7,0.7L0.7,-0.7","circle","M-1,0L1,0M0,-1L0,1","M0,-1L0.951,-0.309L0.588,0.809L-0.588,0.809L-0.951,-0.309Z","M0,-1L0.951,-0.309L0.588,0.809L-0.588,0.809L-0.951,-0.309Z","diamond","diamond","triangle-down","triangle-down","triangle-up","triangle-up","circle","circle","square","square","M-1,0L1,0M0,-1L0,1M-0.7,-0.7L0.7,0.7M-0.7,0.7L0.7,-0.7","M-0.75,-0.75L0.75,0.75M-0.75,0.75L0.75,-0.75","M-1,0L1,0M0,-1L0,1"]}},
  "size":{"condition":[{"test":"datum.r==980","value":64},{"test":"indexof([970,990,1120,1130,1140],datum.r)>=0","value":50}],"value":32}
 }},
{"data":{"name":"iso"},
 "transform":[{"filter":"indexof([880,900,920,940,960,1010,1030,1050,1070,1090,1110],datum.r)>=0"}],
 "mark":{"type":"point","shape":"circle","filled":true,"size":2,"opacity":1},
 "encoding":{"x":{"field":"T","type":"quantitative","axis":null},"y":{"field":"P","type":"quantitative","axis":null},
  "color":{"field":"r","type":"ordinal","legend":null,"scale":{"domain":[880,890,900,910,920,930,940,950,960,970,980,990,1000,1010,1020,1030,1040,1050,1060,1070,1080,1090,1100,1110,1120,1130,1140],
   "range":["#e010a8","#b800c8","#9a18d8","#7808d0","#6818d8","#4808d0","#3018e0","#0818d0","#2058d8","#3078e0","#000000","#40a8f0","#10c0c0","#18c8a8","#10c890","#18c868","#10c040","#20c020","#10b810","#30c010","#50c800","#78cc10","#90c800","#b8d020","#d8d020","#d8b020","#d88c10"]}}}},
{"data":{"name":"pure"},
 "transform":[{"filter":"datum.T>170"}],
 "mark":{"type":"point","shape":"circle","filled":true,"fill":"white","stroke":"black","strokeWidth":1.2,"size":64,"opacity":1},
 "encoding":{"x":{"field":"T","type":"quantitative","axis":null},"y":{"field":"P","type":"quantitative","axis":null}}},
{"data":{"name":"pure"},
 "transform":[{"filter":"datum.T>170"}],
 "mark":{"type":"point","shape":"circle","filled":true,"color":"black","size":3,"opacity":1},
 "encoding":{"x":{"field":"T","type":"quantitative","axis":null},"y":{"field":"P","type":"quantitative","axis":null}}},
{"data":{"name":"legl"},
 "mark":{"type":"line"},
 "encoding":{"x":{"field":"T","type":"quantitative","axis":null},"y":{"field":"P","type":"quantitative","axis":null},"detail":{"field":"k","type":"nominal"},
  "strokeWidth":{"condition":{"test":"datum.k=='lg'","value":2},"value":1},
  "stroke":{"condition":{"test":"datum.k=='lg'","value":"#e010a8"},"value":"black"}}},
{"data":{"name":"legl"},
 "transform":[{"filter":"datum.k!='lg'"}],
 "mark":{"type":"tick","orient":"vertical","size":9,"thickness":1,"color":"black","opacity":1},
 "encoding":{"x":{"field":"T","type":"quantitative","axis":null},"y":{"field":"P","type":"quantitative","axis":null}}},
{"data":{"name":"spec"},
 "transform":[{"filter":"datum.k=='L980'"}],
 "mark":{"type":"point","shape":"circle","filled":true,"color":"black","size":64,"opacity":1},
 "encoding":{"x":{"field":"T","type":"quantitative","axis":null},"y":{"field":"P","type":"quantitative","axis":null}}},
{"data":{"name":"spec"},
 "transform":[{"filter":"datum.k=='Lpure'"}],
 "mark":{"type":"point","shape":"circle","filled":true,"fill":"white","stroke":"black","strokeWidth":1.2,"size":64,"opacity":1},
 "encoding":{"x":{"field":"T","type":"quantitative","axis":null},"y":{"field":"P","type":"quantitative","axis":null}}},
{"data":{"name":"spec"},
 "transform":[{"filter":"datum.k=='Lpure'"}],
 "mark":{"type":"point","shape":"circle","filled":true,"color":"black","size":3,"opacity":1},
 "encoding":{"x":{"field":"T","type":"quantitative","axis":null},"y":{"field":"P","type":"quantitative","axis":null}}},
{"data":{"name":"spec"},
 "transform":[{"filter":"datum.k=='LG'"}],
 "mark":{"type":"point","shape":"diamond","filled":true,"stroke":"#e010a8","fill":"white","strokeWidth":1.2,"size":30,"opacity":1},
 "encoding":{"x":{"field":"T","type":"quantitative","axis":null},"y":{"field":"P","type":"quantitative","axis":null}}},
{"data":{"name":"spec"},
 "transform":[{"filter":"datum.k=='TMD'"}],
 "mark":{"type":"point","shape":"triangle-up","filled":true,"color":"#c0221c","size":80,"opacity":1},
 "encoding":{"x":{"field":"T","type":"quantitative","axis":null},"y":{"field":"P","type":"quantitative","axis":null}}},
{"data":{"name":"spec"},
 "transform":[{"filter":"datum.k=='TmD'"}],
 "mark":{"type":"point","shape":"triangle-down","filled":true,"color":"#c0221c","size":80,"opacity":1},
 "encoding":{"x":{"field":"T","type":"quantitative","axis":null},"y":{"field":"P","type":"quantitative","axis":null}}},
{"data":{"name":"spec"},
 "transform":[{"filter":"datum.k=='TMDp'"}],
 "mark":{"type":"point","shape":"triangle-up","filled":false,"color":"#12877e","strokeWidth":1.3,"size":90,"opacity":1},
 "encoding":{"x":{"field":"T","type":"quantitative","axis":null},"y":{"field":"P","type":"quantitative","axis":null}}},
{"data":{"name":"spec"},
 "transform":[{"filter":"datum.k=='TmDp'"}],
 "mark":{"type":"point","shape":"triangle-down","filled":false,"color":"#12877e","strokeWidth":1.3,"size":90,"opacity":1},
 "encoding":{"x":{"field":"T","type":"quantitative","axis":null},"y":{"field":"P","type":"quantitative","axis":null}}},
{"data":{"name":"spec"},
 "transform":[{"filter":"datum.k=='kT'"}],
 "mark":{"type":"point","shape":"diamond","filled":true,"color":"#d2a200","size":80,"opacity":1},
 "encoding":{"x":{"field":"T","type":"quantitative","axis":null},"y":{"field":"P","type":"quantitative","axis":null}}},
{"data":{"name":"spec"},
 "transform":[{"filter":"datum.k=='LLp'"}],
 "mark":{"type":"point","shape":"circle","filled":true,"color":"#00978a","size":150,"opacity":1},
 "encoding":{"x":{"field":"T","type":"quantitative","axis":null},"y":{"field":"P","type":"quantitative","axis":null}}},
{"data":{"name":"spec"},
 "transform":[{"filter":"datum.k=='LLc'"}],
 "mark":{"type":"point","shape":"circle","filled":true,"color":"#cccc00","size":150,"opacity":1},
 "encoding":{"x":{"field":"T","type":"quantitative","axis":null},"y":{"field":"P","type":"quantitative","axis":null}}},
{"data":{"name":"legt"},
 "mark":{"type":"text","align":"right","baseline":"middle","font":"DejaVu Serif","fontSize":18,"color":"black"},
 "encoding":{"x":{"field":"T","type":"quantitative","axis":null},"y":{"field":"P","type":"quantitative","axis":null},"text":{"field":"t"}}},
{"data":{"name":"legs"},
 "mark":{"type":"text","align":"left","baseline":"middle","font":"DejaVu Serif","fontSize":11,"dy":5,"color":"black"},
 "encoding":{"x":{"field":"T","type":"quantitative","axis":null},"y":{"field":"P","type":"quantitative","axis":null},"text":{"field":"t"}}},
{"data":{"name":"ann"},
 "mark":{"type":"text","align":"center","baseline":"middle","font":"DejaVu Serif","fontSize":18,"color":"black"},
 "encoding":{"x":{"field":"T","type":"quantitative","axis":null},"y":{"field":"P","type":"quantitative","axis":null},"text":{"field":"t"}}}
],
"resolve":{"axis":{"x":"independent","y":"independent"}}
}
